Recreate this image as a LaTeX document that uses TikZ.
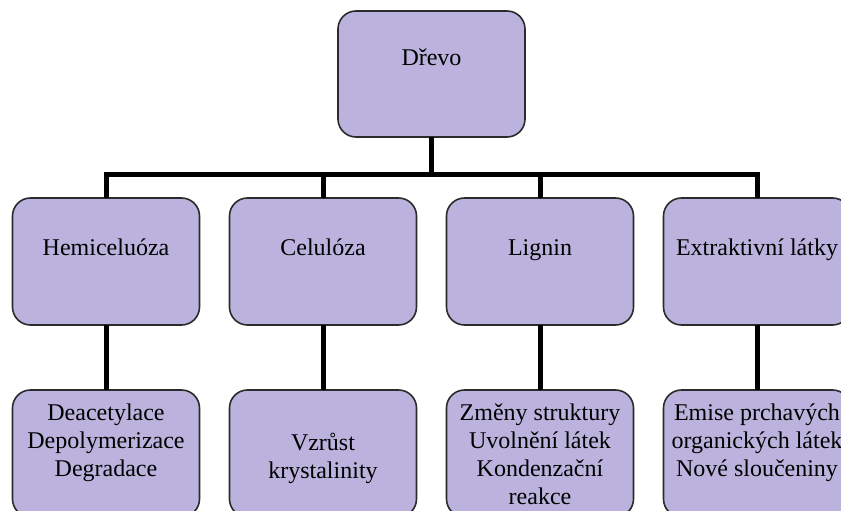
\documentclass[tikz,border=0pt]{standalone}
\usepackage{fontspec}
\setmainfont{Liberation Serif}
\usetikzlibrary{positioning}
\definecolor{lavender}{HTML}{BBB3DD}
\definecolor{edgegray}{HTML}{2B2B2B}
\newcommand{\boxlines}[1]{\begin{tabular}[t]{@{}c@{}}#1\end{tabular}}

\begin{document}
\begin{tikzpicture}[
    x=1pt, y=1pt,
    node distance=30pt,
    box/.style={draw=edgegray, line width=1.6pt, rounded corners=18pt, fill=lavender, minimum width=187pt, inner xsep=4pt, inner ysep=13pt, outer sep=0pt, font=\fontsize{24}{28}\selectfont},
    rootbox/.style={box, text height=42pt, text depth=58pt},
    midbox/.style={box, text height=44pt, text depth=57pt},
    lowbox/.style={box, text height=17pt, text depth=84pt},
    conn/.style={line width=5pt, line join=miter}
  ]
    \useasboundingbox (0,0) rectangle (841,-511);
    \clip (0,0) rectangle (841,-511);

    \node[rootbox, anchor=north] (drevo) at (431.5,-11) {Dřevo};

    \node[midbox, below=61pt of drevo, xshift=-108.5pt] (celu) {Celulóza};
    \node[midbox, below=61pt of drevo, xshift=108.5pt] (lig) {Lignin};
    \node[midbox, left=of celu] (hemi) {Hemiceluóza};
    \node[midbox, right=of lig] (extr) {Extraktivní látky};

    \node[lowbox, below=65pt of hemi] (hemiD) {\boxlines{Deacetylace\\Depolymerizace\\Degradace}};
    \node[lowbox, below=65pt of celu, text height=47pt, text depth=54pt] (celuD) {\boxlines{Vzrůst\\krystalinity}};
    \node[lowbox, below=65pt of lig] (ligD) {\boxlines{Změny struktury\\Uvolnění látek\\Kondenzační\\reakce}};
    \node[lowbox, below=65pt of extr] (extrD) {\boxlines{Emise prchavých\\organických látek\\Nové sloučeniny}};

    \draw[conn] (drevo.south) -- ++(0,-37) coordinate (bus);
    \foreach \n in {hemi,celu,lig,extr}
      \draw[conn] (bus) -| (\n.north);
    \foreach \a/\b in {hemi/hemiD,celu/celuD,lig/ligD,extr/extrD}
      \draw[conn] (\a.south) -- (\b.north);
  \end{tikzpicture}
\end{document}
